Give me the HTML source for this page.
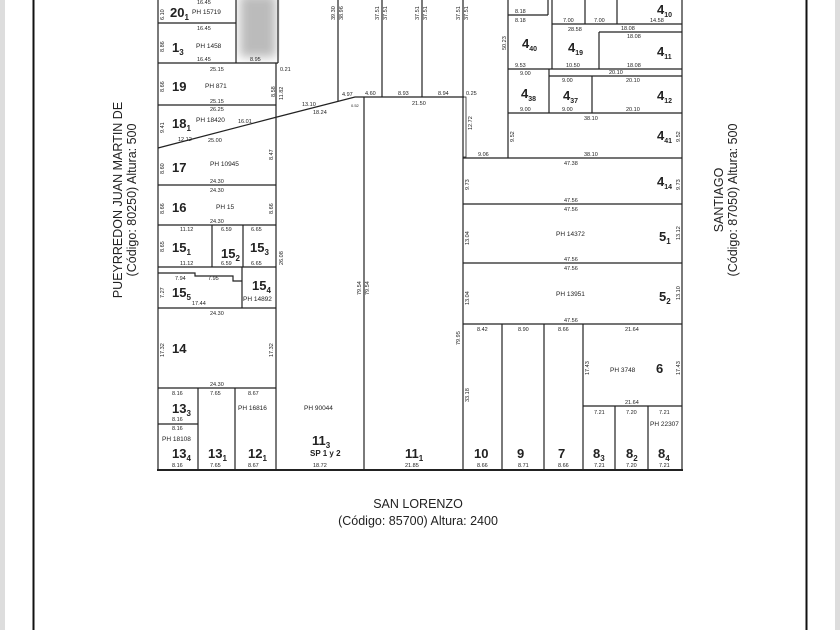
<!DOCTYPE html>
<html><head><meta charset="utf-8"><style>
html,body{margin:0;padding:0;background:#fff;}
svg{display:block}
text{font-family:"Liberation Sans",sans-serif;fill:#222}
.d{font-size:5.5px}
.p{font-size:6.5px}
.n{font-size:13px;font-weight:bold}
.s{font-size:8px;font-weight:bold}
</style></head><body>
<svg width="840" height="630" viewBox="0 0 840 630" xmlns="http://www.w3.org/2000/svg">
<defs><filter id="bl"><feGaussianBlur stdDeviation="5"/></filter></defs>
<rect x="0" y="0" width="5" height="630" fill="#ddd"/>
<rect x="835" y="0" width="5" height="630" fill="#ddd"/>
<line x1="33.5" y1="0" x2="33.5" y2="630" stroke="#111" stroke-width="2"/>
<line x1="806.5" y1="0" x2="806.5" y2="630" stroke="#111" stroke-width="2"/>
<rect x="240" y="-5" width="36" height="62" fill="#bbb" filter="url(#bl)"/>
<g stroke="#222" stroke-width="1.2" fill="none">
<!-- outer block -->
<line x1="158" y1="0" x2="158" y2="470"/>
<line x1="157" y1="470" x2="683" y2="470" stroke-width="2"/>
<line x1="682" y1="0" x2="682" y2="470"/>
<!-- left column -->
<line x1="158" y1="23" x2="236" y2="23"/>
<line x1="236" y1="0" x2="236" y2="63"/>
<line x1="278" y1="0" x2="278" y2="63"/>
<line x1="158" y1="63" x2="278" y2="63"/>
<line x1="276" y1="63" x2="276" y2="470"/>
<line x1="158" y1="105" x2="276" y2="105"/>
<polyline points="158,148 277,117 355,97 464,97"/>
<line x1="158" y1="185" x2="276" y2="185"/>
<line x1="158" y1="225" x2="276" y2="225"/>
<line x1="212" y1="225" x2="212" y2="267"/>
<line x1="243" y1="225" x2="243" y2="267"/>
<polyline points="158,267 276,267"/>
<polyline points="158,273 195,273 195,276 233,276 233,281 242,281"/>
<line x1="242" y1="267" x2="242" y2="308"/>
<line x1="158" y1="308" x2="276" y2="308"/>
<line x1="158" y1="388" x2="276" y2="388"/>
<line x1="198" y1="388" x2="198" y2="470"/>
<line x1="235" y1="388" x2="235" y2="470"/>
<line x1="158" y1="424" x2="198" y2="424"/>
<!-- middle -->
<line x1="338" y1="0" x2="338" y2="101"/>
<line x1="382" y1="0" x2="382" y2="97"/>
<line x1="422" y1="0" x2="422" y2="97"/>
<line x1="463" y1="0" x2="463" y2="470"/>
<line x1="364" y1="97" x2="364" y2="470"/>
<rect x="463" y="97" width="3" height="60" stroke-width="0.8"/>
<!-- right -->
<line x1="508" y1="0" x2="508" y2="158"/>
<line x1="463" y1="158" x2="682" y2="158"/>
<line x1="508" y1="15" x2="548" y2="15"/>
<line x1="548" y1="0" x2="548" y2="15"/>
<line x1="552" y1="0" x2="552" y2="69"/>
<line x1="585" y1="0" x2="585" y2="24"/>
<line x1="617" y1="0" x2="617" y2="24"/>
<line x1="552" y1="24" x2="682" y2="24"/>
<line x1="599" y1="32" x2="682" y2="32"/>
<line x1="599" y1="32" x2="599" y2="69"/>
<line x1="508" y1="69" x2="682" y2="69"/>
<line x1="549" y1="69" x2="549" y2="113"/>
<line x1="549" y1="76" x2="682" y2="76"/>
<line x1="592" y1="76" x2="592" y2="113"/>
<line x1="508" y1="113" x2="682" y2="113"/>
<line x1="463" y1="204" x2="682" y2="204"/>
<line x1="463" y1="263" x2="682" y2="263"/>
<line x1="463" y1="324" x2="682" y2="324"/>
<line x1="502" y1="324" x2="502" y2="470"/>
<line x1="544" y1="324" x2="544" y2="470"/>
<line x1="583" y1="324" x2="583" y2="470"/>
<line x1="583" y1="406" x2="682" y2="406"/>
<line x1="615" y1="406" x2="615" y2="470"/>
<line x1="648" y1="406" x2="648" y2="470"/>
</g>
<!-- lot labels -->
<text class="n" x="170" y="17">20<tspan font-size="8" dy="3">1</tspan></text>
<text class="n" x="172" y="52">1<tspan font-size="8" dy="3">3</tspan></text>
<text class="n" x="172" y="91">19</text>
<text class="n" x="172" y="128">18<tspan font-size="8" dy="3">1</tspan></text>
<text class="n" x="172" y="172">17</text>
<text class="n" x="172" y="212">16</text>
<text class="n" x="172" y="252">15<tspan font-size="8" dy="3">1</tspan></text>
<text class="n" x="221" y="258">15<tspan font-size="8" dy="3">2</tspan></text>
<text class="n" x="250" y="252">15<tspan font-size="8" dy="3">3</tspan></text>
<text class="n" x="172" y="297">15<tspan font-size="8" dy="3">5</tspan></text>
<text class="n" x="252" y="290">15<tspan font-size="8" dy="3">4</tspan></text>
<text class="n" x="172" y="353">14</text>
<text class="n" x="172" y="413">13<tspan font-size="8" dy="3">3</tspan></text>
<text class="n" x="172" y="458">13<tspan font-size="8" dy="3">4</tspan></text>
<text class="n" x="208" y="458">13<tspan font-size="8" dy="3">1</tspan></text>
<text class="n" x="248" y="458">12<tspan font-size="8" dy="3">1</tspan></text>
<text class="n" x="312" y="445">11<tspan font-size="8" dy="3">3</tspan></text>
<text class="s" x="310" y="456" font-size="6">SP 1 y 2</text>
<text class="n" x="405" y="458">11<tspan font-size="8" dy="3">1</tspan></text>
<text class="n" x="474" y="458">10</text>
<text class="n" x="517" y="458">9</text>
<text class="n" x="558" y="458">7</text>
<text class="n" x="593" y="458">8<tspan font-size="8" dy="3">3</tspan></text>
<text class="n" x="626" y="458">8<tspan font-size="8" dy="3">2</tspan></text>
<text class="n" x="658" y="458">8<tspan font-size="8" dy="3">4</tspan></text>
<text class="n" x="656" y="373">6</text>
<text class="n" x="659" y="241">5<tspan font-size="8" dy="3">1</tspan></text>
<text class="n" x="659" y="301">5<tspan font-size="8" dy="3">2</tspan></text>
<text class="n" x="657" y="186">4<tspan font-size="7" dy="3">14</tspan></text>
<text class="n" x="657" y="140">4<tspan font-size="7" dy="3">41</tspan></text>
<text class="n" x="657" y="100">4<tspan font-size="7" dy="3">12</tspan></text>
<text class="n" x="657" y="56">4<tspan font-size="7" dy="3">11</tspan></text>
<text class="n" x="657" y="14">4<tspan font-size="7" dy="3">10</tspan></text>
<text class="n" x="568" y="52">4<tspan font-size="7" dy="3">19</tspan></text>
<text class="n" x="522" y="48">4<tspan font-size="7" dy="3">40</tspan></text>
<text class="n" x="521" y="98">4<tspan font-size="7" dy="3">38</tspan></text>
<text class="n" x="563" y="100">4<tspan font-size="7" dy="3">37</tspan></text>
<!-- PH labels -->
<text class="p" x="192" y="14">PH 15719</text>
<text class="p" x="196" y="48">PH 1458</text>
<text class="p" x="205" y="88">PH 871</text>
<text class="p" x="196" y="122">PH 18420</text>
<text class="p" x="210" y="166">PH 10945</text>
<text class="p" x="216" y="209">PH 15</text>
<text class="p" x="243" y="301">PH 14892</text>
<text class="p" x="238" y="410">PH 16816</text>
<text class="p" x="162" y="441">PH 18108</text>
<text class="p" x="304" y="410">PH 90044</text>
<text class="p" x="556" y="236">PH 14372</text>
<text class="p" x="556" y="296">PH 13951</text>
<text class="p" x="610" y="372">PH 3748</text>
<text class="p" x="650" y="426" font-size="5.5">PH 22307</text>
<!-- dimensions -->
<g class="d">
<text x="197" y="4">16.45</text><text x="197" y="30">16.45</text><text x="197" y="61">16.45</text>
<text x="250" y="61">8.95</text><text x="280" y="71">0.21</text>
<text x="210" y="71">25.15</text><text x="210" y="103">25.15</text><text x="210" y="111">26.25</text>
<text x="238" y="123">16.01</text><text x="178" y="141">12.12</text><text x="208" y="142">25.00</text>
<text x="302" y="106">13.10</text><text x="313" y="114">18.24</text><text x="342" y="96">4.97</text>
<text x="365" y="95">4.60</text><text x="398" y="95">8.93</text><text x="438" y="95">8.94</text>
<text x="466" y="95">0.25</text><text x="412" y="105">21.50</text><text x="351" y="107" font-size="4">0.52</text>
<text x="210" y="183">24.30</text><text x="210" y="192">24.30</text><text x="210" y="223">24.30</text>
<text x="180" y="231">11.12</text><text x="221" y="231">6.59</text><text x="251" y="231">6.65</text>
<text x="180" y="265">11.12</text><text x="221" y="265">6.59</text><text x="251" y="265">6.65</text>
<text x="175" y="280">7.94</text><text x="208" y="280">7.95</text><text x="192" y="305">17.44</text>
<text x="210" y="315">24.30</text><text x="210" y="386">24.30</text>
<text x="172" y="395">8.16</text><text x="210" y="395">7.65</text><text x="248" y="395">8.67</text>
<text x="172" y="421">8.16</text><text x="172" y="430">8.16</text>
<text x="172" y="467">8.16</text><text x="210" y="467">7.65</text><text x="248" y="467">8.67</text>
<text x="313" y="467">18.72</text><text x="405" y="467">21.85</text>
<text x="477" y="467">8.66</text><text x="518" y="467">8.71</text><text x="558" y="467">8.66</text>
<text x="594" y="467">7.21</text><text x="626" y="467">7.20</text><text x="659" y="467">7.21</text>
<text x="594" y="414">7.21</text><text x="626" y="414">7.20</text><text x="659" y="414">7.21</text>
<text x="477" y="331">8.42</text><text x="518" y="331">8.90</text><text x="558" y="331">8.66</text>
<text x="625" y="331">21.64</text><text x="625" y="404">21.64</text>
<text x="564" y="202">47.56</text><text x="564" y="211">47.56</text>
<text x="564" y="261">47.56</text><text x="564" y="270">47.56</text><text x="564" y="322">47.56</text>
<text x="564" y="165">47.38</text><text x="584" y="156">38.10</text><text x="584" y="120">38.10</text>
<text x="478" y="156">9.06</text>
<text x="520" y="75">9.00</text><text x="520" y="111">9.00</text><text x="562" y="82">9.00</text><text x="562" y="111">9.00</text>
<text x="626" y="82">20.10</text><text x="626" y="111">20.10</text><text x="609" y="74">20.10</text>
<text x="515" y="67">9.53</text><text x="566" y="67">10.50</text><text x="627" y="38">18.08</text><text x="627" y="67">18.08</text>
<text x="568" y="31">28.58</text><text x="563" y="22">7.00</text><text x="594" y="22">7.00</text><text x="650" y="22">14.58</text>
<text x="621" y="30">18.08</text><text x="515" y="13">8.18</text><text x="515" y="22">8.18</text>
</g>
<g class="d">
<text transform="translate(164,20) rotate(-90)">6.10</text>
<text transform="translate(164,52) rotate(-90)">8.86</text>
<text transform="translate(164,92) rotate(-90)">8.66</text>
<text transform="translate(164,133) rotate(-90)">9.41</text>
<text transform="translate(164,174) rotate(-90)">8.60</text>
<text transform="translate(164,214) rotate(-90)">8.66</text>
<text transform="translate(164,252) rotate(-90)">8.65</text>
<text transform="translate(164,298) rotate(-90)">7.27</text>
<text transform="translate(164,357) rotate(-90)">17.32</text>
<text transform="translate(273,357) rotate(-90)">17.32</text>
<text transform="translate(273,214) rotate(-90)">8.66</text>
<text transform="translate(273,160) rotate(-90)">8.47</text>
<text transform="translate(275,97) rotate(-90)">8.58</text>
<text transform="translate(283,100) rotate(-90)">11.82</text>
<text transform="translate(283,265) rotate(-90)">26.08</text>
<text transform="translate(335,20) rotate(-90)">39.30</text>
<text transform="translate(343,20) rotate(-90)">38.96</text>
<text transform="translate(379,20) rotate(-90)">37.51</text>
<text transform="translate(387,20) rotate(-90)">37.51</text>
<text transform="translate(419,20) rotate(-90)">37.51</text>
<text transform="translate(427,20) rotate(-90)">37.51</text>
<text transform="translate(460,20) rotate(-90)">37.51</text>
<text transform="translate(468,20) rotate(-90)">37.51</text>
<text transform="translate(361,295) rotate(-90)">79.54</text>
<text transform="translate(369,295) rotate(-90)">79.54</text>
<text transform="translate(460,345) rotate(-90)">79.95</text>
<text transform="translate(472,130) rotate(-90)">12.72</text>
<text transform="translate(469,190) rotate(-90)">9.73</text>
<text transform="translate(469,245) rotate(-90)">13.04</text>
<text transform="translate(469,305) rotate(-90)">13.04</text>
<text transform="translate(469,402) rotate(-90)">33.18</text>
<text transform="translate(680,190) rotate(-90)">9.73</text>
<text transform="translate(680,142) rotate(-90)">9.52</text>
<text transform="translate(680,240) rotate(-90)">13.12</text>
<text transform="translate(680,300) rotate(-90)">13.10</text>
<text transform="translate(680,375) rotate(-90)">17.43</text>
<text transform="translate(589,375) rotate(-90)">17.43</text>
<text transform="translate(506,50) rotate(-90)">50.23</text>
<text transform="translate(514,142) rotate(-90)">9.52</text>
</g>
<!-- street names -->
<text transform="translate(122,200) rotate(-90)" text-anchor="middle" font-size="12.5">PUEYRREDON JUAN MARTIN DE</text>
<text transform="translate(136,200) rotate(-90)" text-anchor="middle" font-size="12.5">(Código: 80250) Altura: 500</text>
<text transform="translate(723,200) rotate(-90)" text-anchor="middle" font-size="12.5">SANTIAGO</text>
<text transform="translate(737,200) rotate(-90)" text-anchor="middle" font-size="12.5">(Código: 87050) Altura: 500</text>
<text x="418" y="508" text-anchor="middle" font-size="12.5">SAN LORENZO</text>
<text x="418" y="525" text-anchor="middle" font-size="12.5">(Código: 85700) Altura: 2400</text>
</svg>
</body></html>
